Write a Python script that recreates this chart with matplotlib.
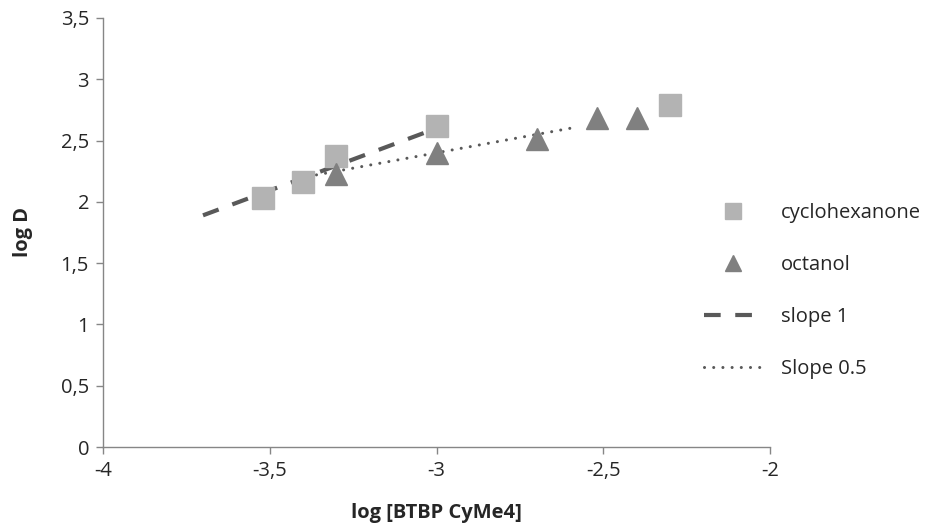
import numpy as np
import matplotlib.pyplot as plt

plt.rcParams['font.family'] = ['Open Sans', 'DejaVu Sans']

# data
cyclo_x = [-3.52, -3.40, -3.30, -3.00, -2.30]
cyclo_y = [2.03, 2.16, 2.37, 2.62, 2.79]

octanol_x = [-3.30, -3.00, -2.70, -2.52, -2.40]
octanol_y = [2.23, 2.40, 2.51, 2.68, 2.68]

slope1_x = [-3.70, -3.03]
slope1_y = [1.89, 2.57]

slope05_x = [-3.36, -2.60]
slope05_y = [2.22, 2.60]

xticks = [-4, -3.5, -3, -2.5, -2]
xticklabels = ['-4', '-3,5', '-3', '-2,5', '-2']
yticks = [0, 0.5, 1, 1.5, 2, 2.5, 3, 3.5]
yticklabels = ['0', '0,5', '1', '1,5', '2', '2,5', '3', '3,5']

axis_col = '#868686'
text_col = '#262626'
fs = 14.5

fig = plt.figure(figsize=(9.44, 5.29), dpi=100)
ax = fig.add_axes([0.109, 0.155, 0.707, 0.811])

ax.plot(slope1_x, slope1_y, color='#595959', lw=3, linestyle=(0, (4, 3.5)),
        label='slope 1', zorder=2)
ax.plot(slope05_x, slope05_y, color='#595959', lw=2.2, linestyle=(0, (0.01, 3.0)),
        dash_capstyle='round', label='Slope 0.5', zorder=2)
ax.plot(cyclo_x, cyclo_y, 's', color='#b3b3b3', markersize=16, label='cyclohexanone', zorder=3)
ax.plot(octanol_x, octanol_y, '^', color='#808080', markersize=16, label='octanol', zorder=3)

ax.set_xlim(-4, -2)
ax.set_ylim(0, 3.5)
ax.set_xticks(xticks)
ax.set_xticklabels(xticklabels)
ax.set_yticks(yticks)
ax.set_yticklabels(yticklabels)

for s in ['top', 'right']:
    ax.spines[s].set_visible(False)
for s in ['left', 'bottom']:
    ax.spines[s].set_color(axis_col)
    ax.spines[s].set_linewidth(1)
ax.tick_params(axis='both', direction='out', length=5, width=1, color=axis_col,
               labelsize=fs, labelcolor=text_col, pad=5)

ax.set_xlabel('log [BTBP CyMe4]', fontsize=fs, fontweight='bold', color=text_col, labelpad=16)
ax.set_ylabel('log D', fontsize=fs, fontweight='bold', color=text_col, labelpad=20)

handles, labels = ax.get_legend_handles_labels()
order = [2, 3, 0, 1]
leg = ax.legend([handles[i] for i in order], [labels[i] for i in order],
                loc='center left', bbox_to_anchor=(0.727, 0.45), bbox_transform=fig.transFigure,
                frameon=False, fontsize=fs, labelspacing=1.58, handlelength=2.8,
                handletextpad=1.0, markerscale=0.75)
for t in leg.get_texts():
    t.set_color(text_col)

fig.savefig('out.png', dpi=100)
